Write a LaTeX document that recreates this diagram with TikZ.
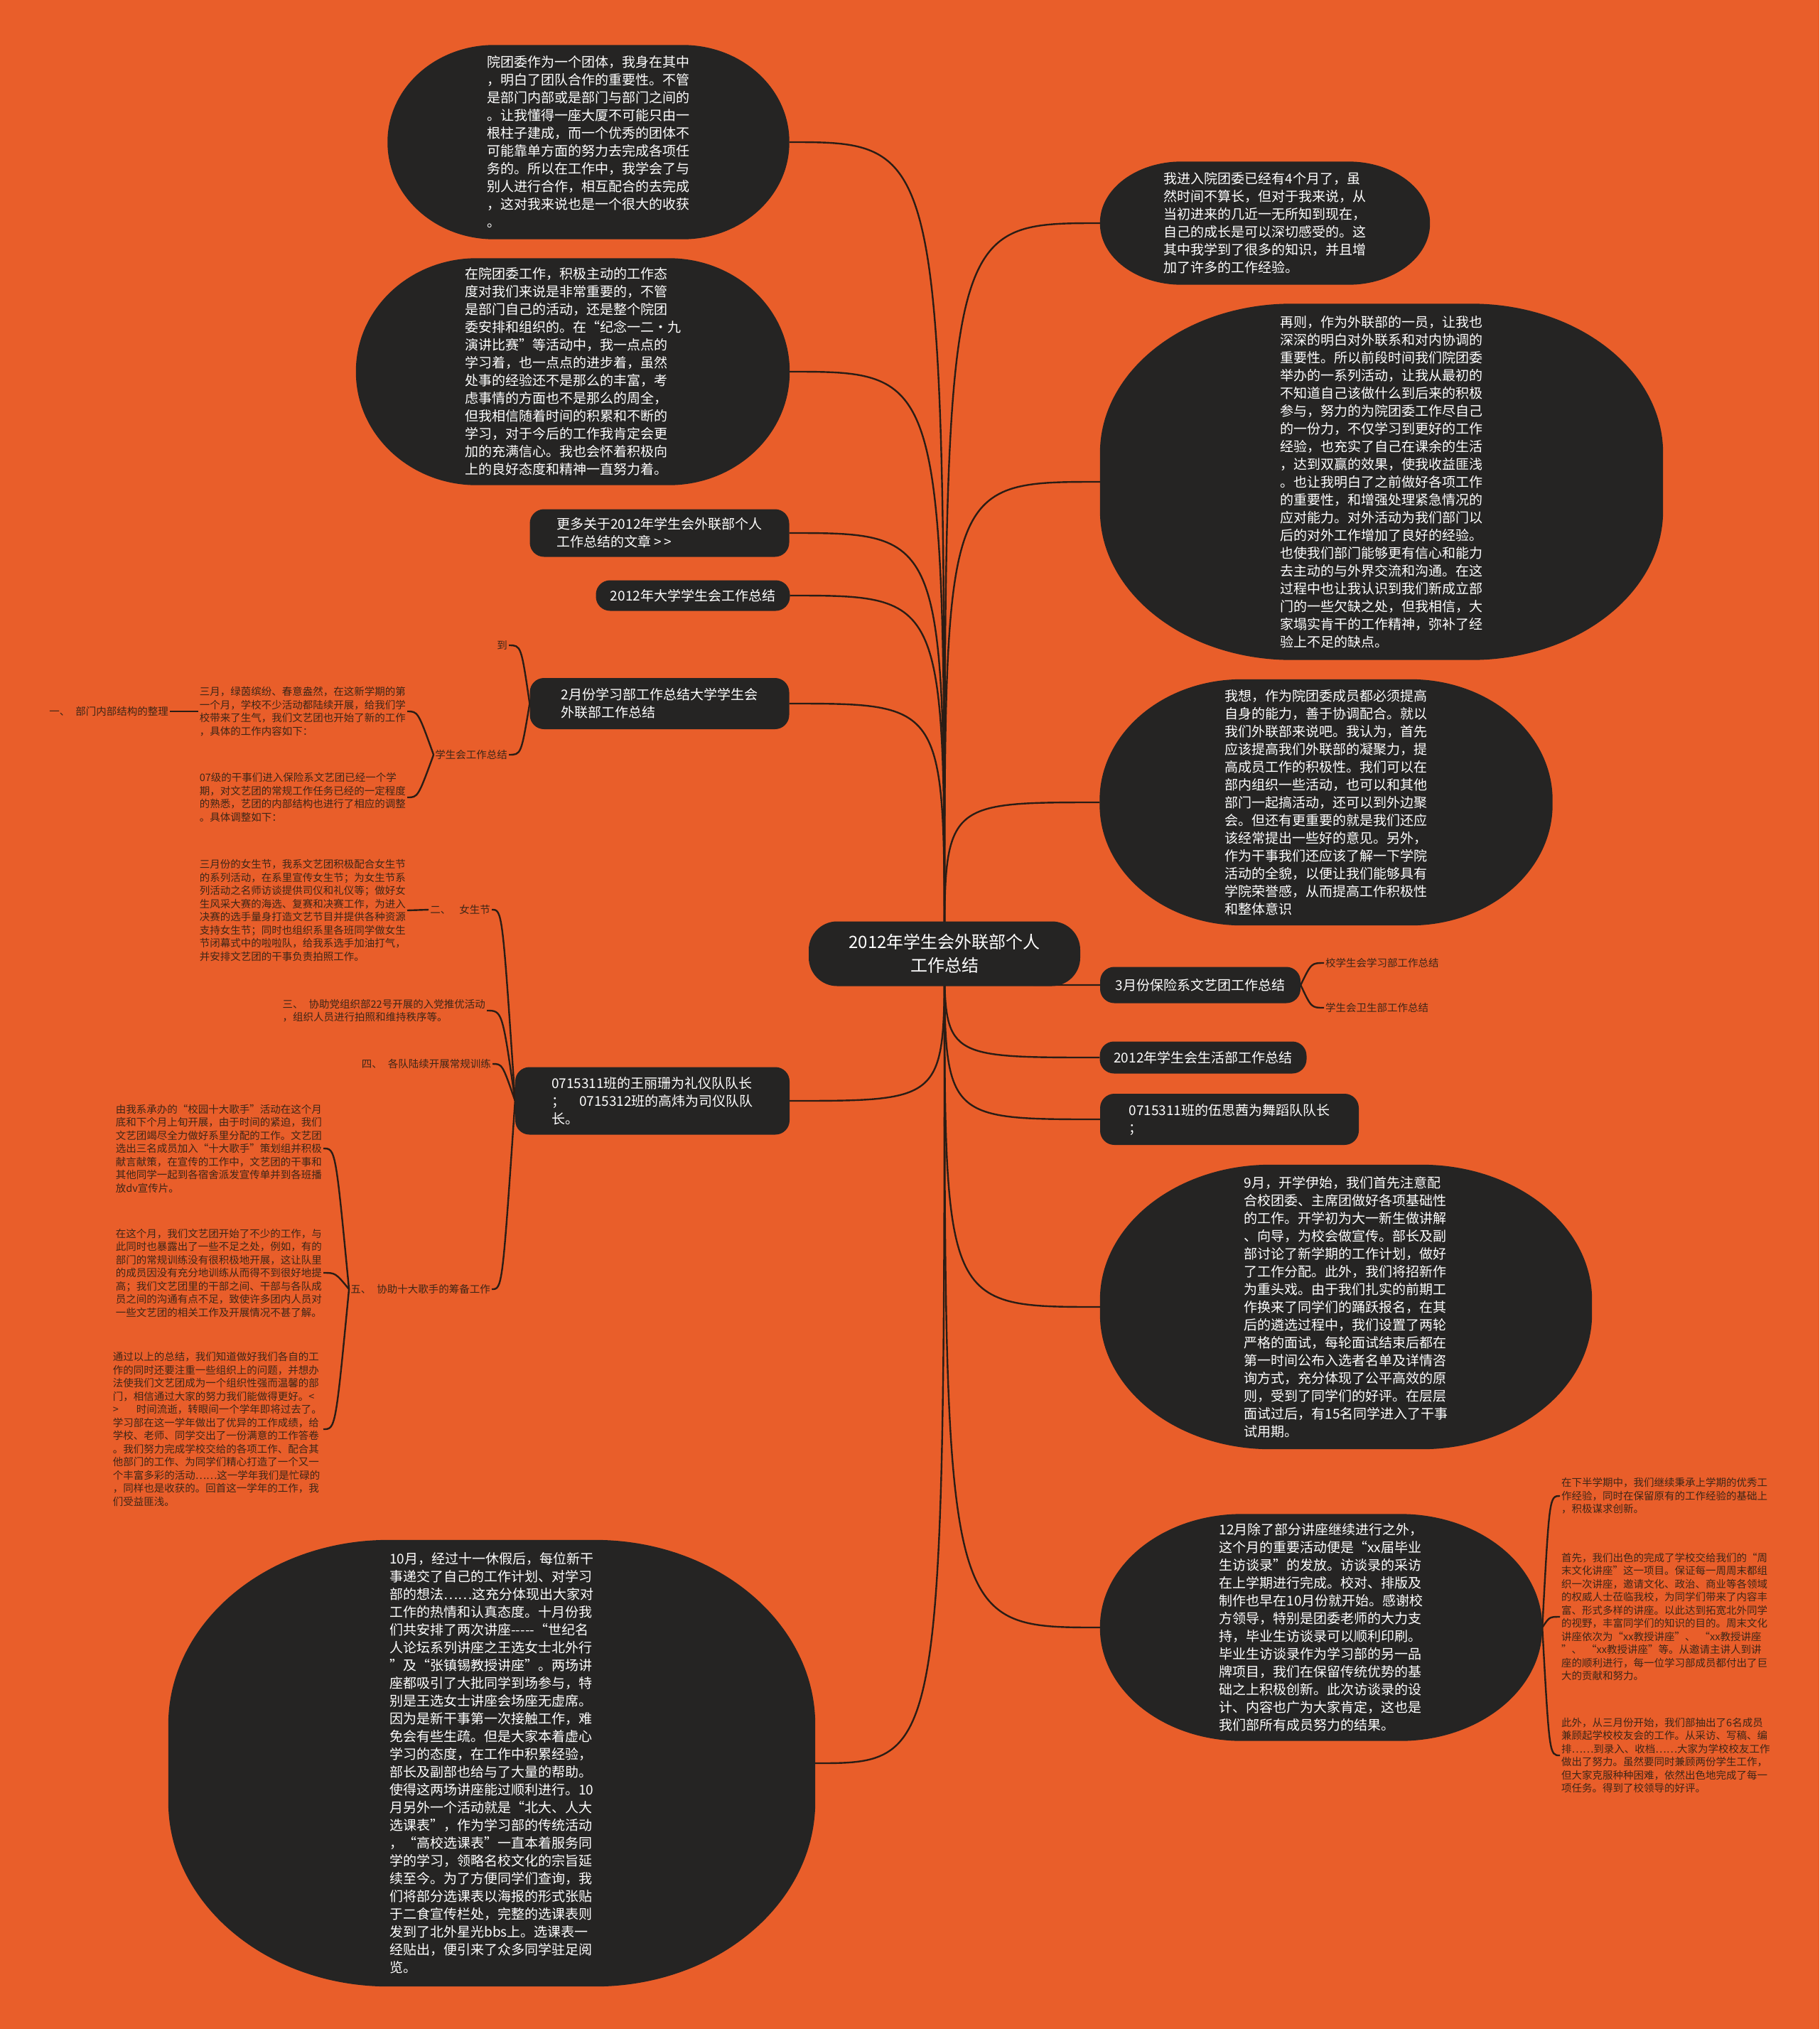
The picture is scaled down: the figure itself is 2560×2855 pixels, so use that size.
\documentclass[tikz,border=0pt]{standalone}
\usepackage{fontspec}
\setmainfont{Noto Sans CJK SC}
\usetikzlibrary{backgrounds, calc}
\definecolor{mapbg}{HTML}{E95E2A}
\definecolor{nodebg}{HTML}{252423}
\definecolor{linkc}{HTML}{2B1D15}
\definecolor{notetxt}{HTML}{3E2617}

% dark bubble behind a node: #1 node, #2 x radius, #3 y radius
\newcommand\blobfill[3]{%
  \fill[nodebg] ([xshift=#2pt]#1.north west) -- ([xshift=-#2pt]#1.north east)
    arc[start angle=90, end angle=0, x radius=#2pt, y radius=#3pt]
    -- ([yshift=#3pt]#1.south east)
    arc[start angle=0, end angle=-90, x radius=#2pt, y radius=#3pt]
    -- ([xshift=#2pt]#1.south west)
    arc[start angle=270, end angle=180, x radius=#2pt, y radius=#3pt]
    -- ([yshift=-#3pt]#1.north west)
    arc[start angle=180, end angle=90, x radius=#2pt, y radius=#3pt] -- cycle;}

\begin{document}
\begin{tikzpicture}[x=1pt, y=1pt,
  bubble/.style={text=white, align=left, inner sep=0pt, font=\fontsize{19}{25}\selectfont},
  pill/.style={fill=nodebg, text=white, align=left, inner sep=0pt, rounded corners=20pt, font=\fontsize{19}{25}\selectfont},
  note/.style={text=notetxt, align=left, inner sep=2pt, font=\fontsize{14.5}{18.5}\selectfont},
  link/.style={draw=linkc, line width=2.4pt}]

\useasboundingbox (0,0) rectangle (2560,-2855);

% centre
\node[fill=nodebg, text=white, rounded corners=40pt, align=center, inner sep=0pt,
      minimum width=382pt, minimum height=91pt, font=\fontsize{24}{33}\selectfont]
  (root) at (1329,-1342) {2012年学生会外联部个人\\工作总结};

% =========== LEFT ===========
\node[bubble, minimum width=565pt, minimum height=273pt] (b1) at (828,-200) {%
院团委作为一个团体，我身在其中\\
，明白了团队合作的重要性。不管\\
是部门内部或是部门与部门之间的\\
。让我懂得一座大厦不可能只由一\\
根柱子建成，而一个优秀的团体不\\
可能靠单方面的努力去完成各项任\\
务的。所以在工作中，我学会了与\\
别人进行合作，相互配合的去完成\\
，这对我来说也是一个很大的收获\\
。};

\node[bubble, minimum width=610pt, minimum height=319pt] (b2) at (806,-523) {%
在院团委工作，积极主动的工作态\\
度对我们来说是非常重要的，不管\\
是部门自己的活动，还是整个院团\\
委安排和组织的。在“纪念一二·九\\
演讲比赛”等活动中，我一点点的\\
学习着，也一点点的进步着，虽然\\
处事的经验还不是那么的丰富，考\\
虑事情的方面也不是那么的周全，\\
但我相信随着时间的积累和不断的\\
学习，对于今后的工作我肯定会更\\
加的充满信心。我也会怀着积极向\\
上的良好态度和精神一直努力着。};

\node[pill, minimum width=365pt, minimum height=67pt] (r1) at (928,-750)
  {更多关于2012年学生会外联部个人\\工作总结的文章 >\hspace{3pt}>};
\node[pill, minimum width=273pt, minimum height=43pt] (r2) at (975,-838)
  {2012年大学学生会工作总结};
\node[pill, minimum width=365pt, minimum height=72pt] (r3) at (928,-990)
  {2月份学习部工作总结大学学生会\\外联部工作总结};
\node[pill, minimum width=386pt, minimum height=95pt] (r4) at (918,-1549)
  {0715311班的王丽珊为礼仪队队长\\；\hspace{20pt}0715312班的高炜为司仪队队\\长。};

% branch of r3
\node[note, anchor=east] (dao) at (716,-908) {到};
\node[note, anchor=east] (xsh) at (716,-1062) {学生会工作总结};
\node[note, anchor=east] (march) at (573,-1001) {%
三月，绿茵缤纷、春意盎然，在这新学期的第\\
一个月，学校不少活动都陆续开展，给我们学\\
校带来了生气，我们文艺团也开始了新的工作\\
，具体的工作内容如下：};
\node[note, anchor=east] (ji07) at (573,-1122) {%
07级的干事们进入保险系文艺团已经一个学\\
期，对文艺团的常规工作任务已经的一定程度\\
的熟悉，艺团的内部结构也进行了相应的调整\\
。具体调整如下：};
\node[note, anchor=east] (one) at (239,-1001) {一、\hspace{8pt}部门内部结构的整理};

% branch of r4
\node[note, anchor=east] (two) at (692,-1280) {二、\hspace{12pt}女生节};
\node[note, anchor=east] (girl) at (573,-1281) {%
三月份的女生节，我系文艺团积极配合女生节\\
的系列活动，在系里宣传女生节；为女生节系\\
列活动之名师访谈提供司仪和礼仪等；做好女\\
生风采大赛的海选、复赛和决赛工作，为进入\\
决赛的选手量身打造文艺节目并提供各种资源\\
支持女生节；同时也组织系里各班同学做女生\\
节闭幕式中的啦啦队，给我系选手加油打气，\\
并安排文艺团的干事负责拍照工作。};
\node[note, anchor=east] (three) at (685,-1422) {%
三、\hspace{8pt}协助党组织部22号开展的入党推优活动\\
，组织人员进行拍照和维持秩序等。};
\node[note, anchor=east] (four) at (693,-1497) {四、\hspace{8pt}各队陆续开展常规训练};
\node[note, anchor=east] (five) at (692,-1814) {五、\hspace{8pt}协助十大歌手的筹备工作};
\node[note, anchor=east] (s1) at (455,-1616) {%
由我系承办的“校园十大歌手”活动在这个月\\
底和下个月上旬开展，由于时间的紧迫，我们\\
文艺团竭尽全力做好系里分配的工作。文艺团\\
选出三名成员加入“十大歌手”策划组并积极\\
献言献策，在宣传的工作中，文艺团的干事和\\
其他同学一起到各宿舍派发宣传单并到各班播\\
放dv宣传片。};
\node[note, anchor=east] (s2) at (455,-1791) {%
在这个月，我们文艺团开始了不少的工作，与\\
此同时也暴露出了一些不足之处，例如，有的\\
部门的常规训练没有很积极地开展，这让队里\\
的成员因没有充分地训练从而得不到很好地提\\
高；我们文艺团里的干部之间、干部与各队成\\
员之间的沟通有点不足，致使许多团内人员对\\
一些文艺团的相关工作及开展情况不甚了解。};
\node[note, anchor=east] (s3) at (455,-2011) {%
通过以上的总结，我们知道做好我们各自的工\\
作的同时还要注重一些组织上的问题，并想办\\
法使我们文艺团成为一个组织性强而温馨的部\\
门，相信通过大家的努力我们能做得更好。<\\
>\hspace{25pt}时间流逝，转眼间一个学年即将过去了。\\
学习部在这一学年做出了优异的工作成绩，给\\
学校、老师、同学交出了一份满意的工作答卷\\
。我们努力完成学校交给的各项工作、配合其\\
他部门的工作、为同学们精心打造了一个又一\\
个丰富多彩的活动……这一学年我们是忙碌的\\
，同样也是收获的。回首这一学年的工作，我\\
们受益匪浅。};

\node[bubble, minimum width=910pt, minimum height=628pt] (b3) at (692,-2481) {%
10月，经过十一休假后，每位新干\\
事递交了自己的工作计划、对学习\\
部的想法……这充分体现出大家对\\
工作的热情和认真态度。十月份我\\
们共安排了两次讲座{-}{-}{-}{-}{-}“世纪名\\
人论坛系列讲座之王选女士北外行\\
”及“张镇锡教授讲座”。两场讲\\
座都吸引了大批同学到场参与，特\\
别是王选女士讲座会场座无虚席。\\
因为是新干事第一次接触工作，难\\
免会有些生疏。但是大家本着虚心\\
学习的态度，在工作中积累经验，\\
部长及副部也给与了大量的帮助。\\
使得这两场讲座能过顺利进行。10\\
月另外一个活动就是“北大、人大\\
选课表”，作为学习部的传统活动\\
，“高校选课表”一直本着服务同\\
学的学习，领略名校文化的宗旨延\\
续至今。为了方便同学们查询，我\\
们将部分选课表以海报的形式张贴\\
于二食宣传栏处，完整的选课表则\\
发到了北外星光bbs上。选课表一\\
经贴出，便引来了众多同学驻足阅\\
览。};

% =========== RIGHT ===========
\node[bubble, minimum width=464pt, minimum height=173pt] (a1) at (1780,-314) {%
我进入院团委已经有4个月了，虽\\
然时间不算长，但对于我来说，从\\
当初进来的几近一无所知到现在，\\
自己的成长是可以深切感受的。这\\
其中我学到了很多的知识，并且增\\
加了许多的工作经验。};

\node[bubble, minimum width=792pt, minimum height=501pt] (a2) at (1944,-678) {%
再则，作为外联部的一员，让我也\\
深深的明白对外联系和对内协调的\\
重要性。所以前段时间我们院团委\\
举办的一系列活动，让我从最初的\\
不知道自己该做什么到后来的积极\\
参与，努力的为院团委工作尽自己\\
的一份力，不仅学习到更好的工作\\
经验，也充实了自己在课余的生活\\
，达到双赢的效果，使我收益匪浅\\
。也让我明白了之前做好各项工作\\
的重要性，和增强处理紧急情况的\\
应对能力。对外活动为我们部门以\\
后的对外工作增加了良好的经验。\\
也使我们部门能够更有信心和能力\\
去主动的与外界交流和沟通。在这\\
过程中也让我认识到我们新成立部\\
门的一些欠缺之处，但我相信，大\\
家塌实肯干的工作精神，弥补了经\\
验上不足的缺点。};

\node[bubble, minimum width=637pt, minimum height=346pt] (a3) at (1866,-1129) {%
我想，作为院团委成员都必须提高\\
自身的能力，善于协调配合。就以\\
我们外联部来说吧。我认为，首先\\
应该提高我们外联部的凝聚力，提\\
高成员工作的积极性。我们可以在\\
部内组织一些活动，也可以和其他\\
部门一起搞活动，还可以到外边聚\\
会。但还有更重要的就是我们还应\\
该经常提出一些好的意见。另外，\\
作为干事我们还应该了解一下学院\\
活动的全貌，以便让我们能够具有\\
学院荣誉感，从而提高工作积极性\\
和整体意识};

\node[pill, minimum width=282pt, minimum height=51pt] (a4) at (1689,-1386)
  {3月份保险系文艺团工作总结};
\node[note, anchor=west] (a4c1) at (1863,-1355) {校学生会学习部工作总结};
\node[note, anchor=west] (a4c2) at (1863,-1418) {学生会卫生部工作总结};
\node[pill, minimum width=291pt, minimum height=45pt] (a5) at (1693,-1488)
  {2012年学生会生活部工作总结};
\node[pill, minimum width=364pt, minimum height=72pt] (a6) at (1730,-1575)
  {0715311班的伍思茜为舞蹈队队长\\；};

\node[bubble, minimum width=692pt, minimum height=400pt] (a7) at (1894,-1839) {%
9月，开学伊始，我们首先注意配\\
合校团委、主席团做好各项基础性\\
的工作。开学初为大一新生做讲解\\
、向导，为校会做宣传。部长及副\\
部讨论了新学期的工作计划，做好\\
了工作分配。此外，我们将招新作\\
为重头戏。由于我们扎实的前期工\\
作换来了同学们的踊跃报名，在其\\
后的遴选过程中，我们设置了两轮\\
严格的面试，每轮面试结束后都在\\
第一时间公布入选者名单及详情咨\\
询方式，充分体现了公平高效的原\\
则，受到了同学们的好评。在层层\\
面试过后，有15名同学进入了干事\\
试用期。};

\node[bubble, minimum width=622pt, minimum height=319pt] (a8) at (1859,-2290) {%
12月除了部分讲座继续进行之外，\\
这个月的重要活动便是“xx届毕业\\
生访谈录”的发放。访谈录的采访\\
在上学期进行完成。校对、排版及\\
制作也早在10月份就开始。感谢校\\
方领导，特别是团委老师的大力支\\
持，毕业生访谈录可以顺利印刷。\\
毕业生访谈录作为学习部的另一品\\
牌项目，我们在保留传统优势的基\\
础之上积极创新。此次访谈录的设\\
计、内容也广为大家肯定，这也是\\
我们部所有成员努力的结果。};

\node[note, anchor=west] (a8c1) at (2195,-2105) {%
在下半学期中，我们继续秉承上学期的优秀工\\
作经验，同时在保留原有的工作经验的基础上\\
，积极谋求创新。};
\node[note, anchor=west] (a8c2) at (2195,-2275) {%
首先，我们出色的完成了学校交给我们的“周\\
末文化讲座”这一项目。保证每一周周末都组\\
织一次讲座，邀请文化、政治、商业等各领域\\
的权威人士莅临我校，为同学们带来了内容丰\\
富、形式多样的讲座。以此达到拓宽北外同学\\
的视野，丰富同学们的知识的目的。周末文化\\
讲座依次为“xx教授讲座”、\hspace{6pt}“xx教授讲座\\
”、\hspace{6pt}“xx教授讲座”等。从邀请主讲人到讲\\
座的顺利进行，每一位学习部成员都付出了巨\\
大的贡献和努力。};
\node[note, anchor=west] (a8c3) at (2195,-2470) {%
此外，从三月份开始，我们部抽出了6名成员\\
兼顾起学校校友会的工作。从采访、写稿、编\\
排……到录入、收档……大家为学校校友工作\\
做出了努力。虽然要同时兼顾两份学生工作，\\
但大家克服种种困难，依然出色地完成了每一\\
项任务。得到了校领导的好评。};

% =========== background, links, bubbles ===========
\begin{scope}[on background layer]
\fill[mapbg] (0,0) rectangle (2560,-2855);

% links from the centre
\foreach \n in {b1, b2, r1, r2, r3, r4, b3}
  \draw[link] (root.center) .. controls (root.center |- \n.east) .. (\n.east);
\foreach \n in {a1, a2, a3, a4, a5, a6, a7, a8}
  \draw[link] (root.center) .. controls (root.center |- \n.west) .. (\n.west);

% left sub-branches
\foreach \n in {dao, xsh}
  \draw[link] (r3.west) .. controls ($(r3.west |- \n.east)+(-12,0)$) .. (\n.east);
\foreach \n in {march, ji07}
  \draw[link] (xsh.west) .. controls ($(xsh.west |- \n.east)+(-22,0)$) .. (\n.east);
\draw[link] (march.west) -- (one.east);
\foreach \n in {two, three, four, five}
  \draw[link] (r4.west) .. controls ($(r4.west |- \n.east)+(-18,0)$) .. (\n.east);
\draw[link] (two.west) -- (girl.east);
\foreach \n in {s1, s2, s3}
  \draw[link] (five.west) .. controls ($(five.west |- \n.east)+(-19,0)$) .. (\n.east);

% right sub-branches
\foreach \n in {a4c1, a4c2}
  \draw[link] (a4.east) .. controls ($(a4.east |- \n.west)+(15,0)$) .. (\n.west);
\foreach \n in {a8c1, a8c2, a8c3}
  \draw[link] (a8.east) .. controls ($(a8.east |- \n.west)+(10,0)$) .. (\n.west);

% bubbles
\blobfill{b1}{150}{136}
\blobfill{b2}{170}{159}
\blobfill{b3}{310}{260}
\blobfill{a1}{115}{86}
\blobfill{a2}{270}{210}
\blobfill{a3}{200}{170}
\blobfill{a7}{240}{190}
\blobfill{a8}{200}{159}
\end{scope}

\end{tikzpicture}
\end{document}
